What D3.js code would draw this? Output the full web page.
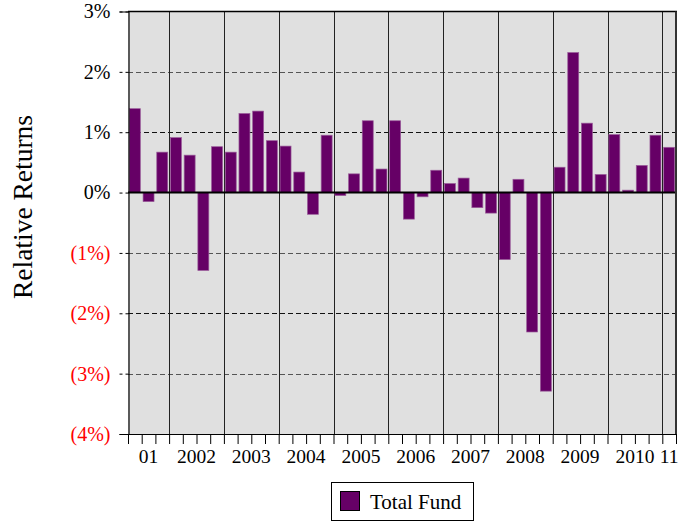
<!DOCTYPE html>
<html>
<head>
<meta charset="utf-8">
<script src="https://cdn.jsdelivr.net/npm/d3@7/dist/d3.min.js"></script>
<style>
  html, body { margin: 0; padding: 0; background: #fff; }
  svg { display: block; }
  svg text { font-family: "Liberation Serif", "Times New Roman", Times, "DejaVu Serif", serif; }
</style>
</head>
<body>
<svg id="chart" width="686" height="529"></svg>
<script>
// ---- data ----
const quarters = [
  "2001Q2","2001Q3","2001Q4",
  "2002Q1","2002Q2","2002Q3","2002Q4",
  "2003Q1","2003Q2","2003Q3","2003Q4",
  "2004Q1","2004Q2","2004Q3","2004Q4",
  "2005Q1","2005Q2","2005Q3","2005Q4",
  "2006Q1","2006Q2","2006Q3","2006Q4",
  "2007Q1","2007Q2","2007Q3","2007Q4",
  "2008Q1","2008Q2","2008Q3","2008Q4",
  "2009Q1","2009Q2","2009Q3","2009Q4",
  "2010Q1","2010Q2","2010Q3","2010Q4",
  "2011Q1"
];
const totalFund = [
  1.39, -0.15, 0.67,
  0.91, 0.62, -1.29, 0.76,
  0.67, 1.31, 1.35, 0.86,
  0.77, 0.34, -0.36, 0.95,
  -0.05, 0.31, 1.19, 0.39,
  1.19, -0.44, -0.07, 0.37,
  0.15, 0.24, -0.25, -0.34,
  -1.11, 0.22, -2.31, -3.29,
  0.42, 2.32, 1.15, 0.30,
  0.96, 0.04, 0.45, 0.95,
  0.75
];
const years = ["2001","2002","2003","2004","2005","2006","2007","2008","2009","2010","2011"];
const yearLabels = ["01","2002","2003","2004","2005","2006","2007","2008","2009","2010","11"];
const yTicks = [3, 2, 1, 0, -1, -2, -3, -4];
const yTickLabels = ["3%","2%","1%","0%","(1%)","(2%)","(3%)","(4%)"];
const seriesName = "Total Fund";
const yTitle = "Relative Returns";

// ---- layout ----
const FONT = "'Liberation Serif', 'Times New Roman', Times, 'DejaVu Serif', serif";
const svg = d3.select("#chart");
const L = 128, R = 676, T = 11.5, B = 434;
const purple = "#660066";

const x = d3.scaleBand().domain(quarters).range([L, R]).paddingInner(0.2).paddingOuter(0.1);
const xIdx = d3.scaleLinear().domain([0, quarters.length]).range([L, R]);
const y = d3.scaleLinear().domain([-4, 3]).range([B, T]);

// background
svg.append("rect").attr("x", L).attr("y", T).attr("width", R - L).attr("height", B - T)
  .attr("fill", "#e0e0e0");

// horizontal dashed gridlines
const gridVals = yTicks.filter(v => v !== 3 && v !== 0 && v !== -4);
svg.append("g").selectAll("line").data(gridVals).join("line")
  .attr("x1", L).attr("x2", R)
  .attr("y1", d => Math.round(y(d)) + 0.5).attr("y2", d => Math.round(y(d)) + 0.5)
  .attr("stroke", d => (d === 1 || d === -2) ? "#111" : "#555")
  .attr("stroke-width", 1)
  .attr("stroke-dasharray", "5,3");

// vertical year separators
const yearStarts = years.slice(1).map(yr => quarters.indexOf(yr + "Q1"));
svg.append("g").selectAll("line").data(yearStarts).join("line")
  .attr("x1", d => Math.round(xIdx(d)) + 0.5).attr("x2", d => Math.round(xIdx(d)) + 0.5)
  .attr("y1", T).attr("y2", B)
  .attr("stroke", "#222").attr("stroke-width", 1);

// bars
svg.append("g").selectAll("rect").data(quarters).join("rect")
  .attr("x", d => x(d))
  .attr("width", x.bandwidth())
  .attr("y", (d, i) => y(Math.max(0, totalFund[i])))
  .attr("height", (d, i) => Math.abs(y(totalFund[i]) - y(0)))
  .attr("fill", purple)
  .attr("stroke", "#9a5c9a")
  .attr("stroke-width", 0.7);

// zero line
svg.append("line").attr("x1", L).attr("x2", R).attr("y1", y(0)).attr("y2", y(0))
  .attr("stroke", "#000").attr("stroke-width", 2);

// frame: top, right
svg.append("line").attr("x1", L).attr("x2", R + 1).attr("y1", T).attr("y2", T)
  .attr("stroke", "#000").attr("stroke-width", 1.5);
svg.append("line").attr("x1", R).attr("x2", R).attr("y1", T).attr("y2", B)
  .attr("stroke", "#333").attr("stroke-width", 2);

// y axis
const yAxis = d3.axisLeft(y).tickValues(yTicks)
  .tickFormat(d => yTickLabels[yTicks.indexOf(d)])
  .tickSize(9).tickPadding(9);
const gy = svg.append("g").attr("transform", `translate(${L + 0.5},0)`).call(yAxis)
  .attr("font-family", FONT);
gy.select(".domain").attr("stroke", "#000").attr("stroke-width", 1.2);
gy.selectAll(".tick line").attr("stroke", "#000").attr("stroke-dasharray", "3,3");
gy.selectAll(".tick text")
  .attr("font-size", 20)
  .attr("fill", d => d < 0 ? "#ff0000" : "#000");

// x axis (ticks at quarter boundaries)
const xAxis = d3.axisBottom(xIdx).tickValues(d3.range(quarters.length + 1))
  .tickFormat("").tickSize(10).tickSizeOuter(0);
const gx = svg.append("g").attr("transform", `translate(0,${B})`).call(xAxis);
gx.select(".domain").attr("stroke", "#000").attr("stroke-width", 1.2);
gx.selectAll(".tick line").attr("stroke", "#000");

// year labels
const yearCenters = years.map((yr, i) => {
  const qs = quarters.map((q, k) => [q, k]).filter(p => p[0].startsWith(yr)).map(p => p[1]);
  return { label: yearLabels[i], cx: (xIdx(d3.min(qs)) + xIdx(d3.max(qs) + 1)) / 2 };
});
svg.append("g").attr("font-family", FONT).selectAll("text").data(yearCenters).join("text")
  .attr("x", d => d.cx).attr("y", 463)
  .attr("text-anchor", "middle")
  .attr("font-size", 19.5).attr("fill", "#000")
  .text(d => d.label);

// y title
svg.append("text")
  .attr("font-family", FONT)
  .attr("transform", "translate(32,207) rotate(-90)")
  .attr("text-anchor", "middle")
  .attr("font-size", 27.5).attr("fill", "#000")
  .text(yTitle);

// legend
const lg = svg.append("g").attr("font-family", FONT);
lg.append("rect").attr("x", 331.5).attr("y", 482.5).attr("width", 142).attr("height", 38)
  .attr("fill", "#fff").attr("stroke", "#000").attr("stroke-width", 1);
lg.append("rect").attr("x", 340.5).attr("y", 491.5).attr("width", 19).attr("height", 19)
  .attr("fill", purple).attr("stroke", "#000").attr("stroke-width", 1);
lg.append("text").attr("x", 370).attr("y", 509)
  .attr("font-size", 21).attr("fill", "#000").text(seriesName);
</script>
</body>
</html>
